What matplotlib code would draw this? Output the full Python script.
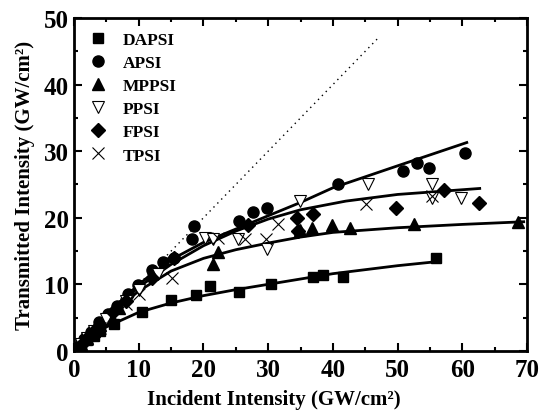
import matplotlib
matplotlib.use("Agg")
import matplotlib.pyplot as plt
from matplotlib.ticker import MultipleLocator

plt.rcParams['font.family'] = ['Liberation Serif', 'DejaVu Serif']
plt.rcParams['font.weight'] = 'bold'

# measured points (incident, transmitted) in GW/cm^2
dapsi_x = [0.5, 1, 2, 3, 4, 6.2, 10.5, 15.0, 18.9, 21.0, 25.5, 30.4, 36.9, 38.4, 41.5, 56.0]
dapsi_y = [0.4, 0.8, 1.6, 2.3, 3.0, 4.0, 5.9, 7.6, 8.4, 9.8, 8.9, 10.1, 11.1, 11.4, 11.1, 13.9]

apsi_x = [0.8, 1.6, 2.6, 3.9, 5.2, 6.7, 8.3, 9.8, 12.1, 13.7, 15.5, 18.3, 18.5, 25.5, 27.6, 29.8,
          40.8, 50.9, 53.0, 54.9, 60.4]
apsi_y = [0.8, 1.8, 2.8, 4.3, 5.5, 6.8, 8.6, 9.9, 12.1, 13.3, 14.0, 16.8, 18.8, 19.5, 20.8, 21.4,
          25.0, 27.0, 28.3, 27.4, 29.8]

mppsi_x = [0.5, 1, 2, 3, 4, 5, 7, 21.4, 22.2, 34.9, 36.7, 39.9, 42.7, 52.6, 68.6]
mppsi_y = [0.5, 1, 2, 3, 3.9, 4.8, 6.5, 13.0, 14.8, 18.1, 18.5, 18.9, 18.4, 19.0, 19.3]

ppsi_x = [1, 2, 3, 5, 8, 10, 13, 20.3, 21.5, 25.4, 29.8, 34.9, 45.4, 55.3, 55.4, 59.8]
ppsi_y = [1, 2, 3, 4.8, 7.5, 9.2, 11.5, 17.0, 16.8, 16.8, 15.3, 22.5, 25.1, 25.1, 23.0, 22.9]

fpsi_x = [1, 2, 3, 4, 6, 8, 12, 15.4, 26.9, 34.4, 34.6, 36.9, 49.7, 57.2, 62.6]
fpsi_y = [0.9, 2, 3, 3.9, 5.8, 7.5, 11.0, 14.0, 18.9, 20.0, 18.0, 20.5, 21.5, 24.2, 22.2]

tpsi_x = [2, 4, 6, 8, 10, 15.1, 22.3, 26.4, 29.7, 31.5, 45.1, 55.4]
tpsi_y = [1.8, 3.5, 5.2, 7.0, 8.5, 11.0, 17.0, 16.8, 16.8, 19.0, 22.1, 23.3]

# fitted curves
fit_dapsi_x = [0, 2, 5, 10, 15, 20, 25, 30, 35, 40, 50, 56]
fit_dapsi_y = [0, 1.8, 3.6, 5.8, 7.2, 8.3, 9.2, 10.0, 10.8, 11.6, 12.8, 13.4]

fit_apsi_x = [0, 5, 10, 15, 20, 25, 30, 35, 40, 50, 60.7]
fit_apsi_y = [0, 5.5, 10.0, 13.7, 16.3, 18.3, 20.3, 22.3, 24.5, 27.8, 31.3]

fit_mppsi_x = [0, 5, 10, 15, 20, 25, 30, 35, 40, 50, 60, 69.5]
fit_mppsi_y = [0, 5.0, 9.0, 12.0, 13.9, 15.2, 16.2, 17.1, 17.8, 18.5, 19.0, 19.4]

fit_fpsi_x = [0, 5, 10, 15, 20, 25, 30, 35, 42, 50, 62.7]
fit_fpsi_y = [0, 5.2, 9.6, 13.0, 15.8, 18.0, 19.8, 21.2, 22.5, 23.5, 24.4]

linear_x = [0, 47]
linear_y = [0, 47]

fig = plt.figure(figsize=(5.41, 4.14), dpi=100)
ax = fig.add_axes([0.137, 0.150, 0.837, 0.804])

ax.plot(linear_x, linear_y, color='black', linestyle=(0, (1, 3)), linewidth=1.0)

for fx, fy in [(fit_dapsi_x, fit_dapsi_y), (fit_apsi_x, fit_apsi_y),
               (fit_mppsi_x, fit_mppsi_y), (fit_fpsi_x, fit_fpsi_y)]:
    ax.plot(fx, fy, color='black', linewidth=2)

ms = 7
ax.plot(dapsi_x, dapsi_y, 's', color='black', markersize=ms, label='DAPSI')
ax.plot(apsi_x, apsi_y, 'o', color='black', markersize=ms + 1, label='APSI')
ax.plot(mppsi_x, mppsi_y, '^', color='black', markersize=ms + 1, label='MPPSI')
ax.plot(ppsi_x, ppsi_y, 'v', markerfacecolor='white', markeredgecolor='black',
        markeredgewidth=0.8, markersize=ms + 2, label='PPSI')
ax.plot(fpsi_x, fpsi_y, 'D', color='black', markersize=ms, label='FPSI')
ax.plot(tpsi_x, tpsi_y, 'x', color='black', markeredgewidth=0.8, markersize=ms + 2, label='TPSI')

ax.set_xlim(0, 70)
ax.set_ylim(0, 50)
ax.xaxis.set_major_locator(MultipleLocator(10))
ax.xaxis.set_minor_locator(MultipleLocator(5))
ax.yaxis.set_major_locator(MultipleLocator(10))
ax.yaxis.set_minor_locator(MultipleLocator(5))
ax.tick_params(which='both', direction='in', top=True, right=True, width=1.5)
ax.tick_params(which='major', length=6, labelsize=18)
ax.tick_params(axis='x', which='major', pad=5)
ax.tick_params(axis='y', which='major', pad=4)
ax.tick_params(which='minor', length=3)
for s in ax.spines.values():
    s.set_linewidth(2)

ax.set_xlabel('Incident Intensity (GW/cm²)', fontsize=15, fontweight='bold', labelpad=2)
ax.xaxis.set_label_coords(0.44, -0.115)
ax.set_ylabel('Transmitted Intensity (GW/cm²)', fontsize=15, fontweight='bold', labelpad=6)

ax.legend(loc='upper left', frameon=False, fontsize=12.5, handletextpad=0.8,
          labelspacing=0.4, borderaxespad=0.4, handlelength=1.2)

fig.savefig('out.png', dpi=100)
